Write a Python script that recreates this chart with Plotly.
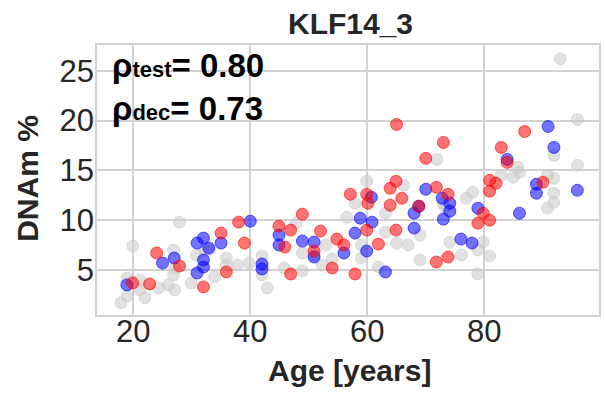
import plotly.graph_objects as go

# Age [years] and DNAm % for each sample group
gray_age = [17.9, 19.0, 19.0, 19.9, 21.1, 21.1, 22.0, 24.3, 26.0, 27.1, 26.9, 26.9, 27.1, 27.9,
            29.9, 30.8, 32.2, 33.0, 33.9, 35.9, 35.9, 37.8, 39.8, 42.0, 42.0, 42.9, 45.8, 47.8,
            48.9, 48.9, 50.9, 52.3, 52.9, 54.0, 56.5, 59.9, 57.9, 63.1, 66.2, 63.1, 59.0, 59.0,
            61.9, 65.0, 67.0, 69.0, 69.0, 73.0, 73.3, 74.1, 76.1, 76.9, 78.0, 78.9, 78.9, 79.8,
            80.9, 82.9, 84.9, 86.0, 90.8, 91.9, 91.9, 91.9, 90.8, 71.9, 91.9, 95.9, 95.9, 93.0,
            85.7]
gray_dnam = [1.7, 2.4, 4.2, 7.4, 4.0, 3.0, 2.2, 3.2, 3.5, 3.0, 7.0, 4.5, 5.2, 9.8,
             3.7, 6.5, 7.0, 7.0, 4.3, 6.2, 5.5, 5.5, 5.7, 6.4, 4.5, 3.2, 5.2, 9.7,
             6.7, 4.9, 6.5, 5.5, 7.5, 6.1, 10.3, 13.9, 11.7, 10.7, 13.5, 8.8, 7.5, 6.2,
             5.3, 7.7, 7.5, 8.5, 6.0, 11.7, 11.3, 7.8, 6.5, 12.2, 12.8, 7.0, 4.6, 7.8,
             6.4, 14.5, 14.3, 14.8, 14.5, 14.2, 12.7, 11.8, 11.2, 16.1, 16.5, 20.1, 15.5, 26.2,
             15.3]

blue_age = [18.9, 25.0, 27.0, 30.9, 32.0, 32.9, 32.0, 32.0, 30.9, 35.0, 40.0, 42.0, 42.0,
            44.9, 44.9, 48.9, 50.9, 50.9, 56.0, 60.7, 58.8, 60.8, 57.9, 59.9, 63.1, 70.0,
            68.0, 68.0, 72.8, 74.1, 74.1, 73.0, 76.0, 77.9, 78.9, 86.0, 88.9, 88.9, 95.9,
            90.9, 91.9, 83.9, 68.8]
blue_dnam = [3.5, 5.7, 6.2, 7.7, 8.2, 7.2, 6.0, 5.3, 4.7, 7.7, 9.9, 5.6, 5.1,
             8.5, 7.5, 7.9, 7.8, 6.3, 6.7, 12.3, 10.2, 9.8, 8.7, 6.9, 4.8, 13.1,
             10.7, 9.2, 12.2, 11.7, 10.9, 10.1, 8.1, 7.7, 11.2, 10.7, 13.6, 12.7, 13.0,
             19.4, 17.3, 16.1, 11.4]

red_age = [19.9, 22.8, 24.0, 27.9, 32.0, 35.0, 35.9, 38.0, 39.0, 44.9, 45.9, 46.9, 46.9,
           48.9, 52.0, 50.9, 54.0, 54.8, 56.0, 57.1, 59.9, 60.1, 63.9, 64.9, 65.9, 63.9,
           59.9, 61.9, 64.9, 57.9, 68.8, 71.8, 73.8, 73.8, 71.8, 78.9, 79.8, 80.9, 80.9,
           82.0, 80.9, 90.0, 65.0, 73.0, 70.0, 82.9, 86.9, 83.9]
red_dnam = [3.7, 3.6, 6.7, 5.4, 3.3, 8.7, 4.8, 9.8, 7.7, 9.4, 7.3, 9.0, 4.6,
            10.6, 8.9, 6.9, 5.2, 8.1, 7.5, 12.6, 12.6, 11.7, 13.2, 13.9, 12.2, 11.5,
            9.0, 7.6, 9.0, 4.6, 11.4, 13.3, 12.6, 6.3, 5.8, 9.7, 10.7, 10.0, 14.0,
            13.7, 12.9, 13.8, 19.6, 17.8, 16.2, 17.3, 18.9, 15.8]

x_ticks = [20, 40, 60, 80]
y_ticks = [5, 10, 15, 20, 25]

title_text = "KLF14_3"
x_label = "Age [years]"
y_label = "DNAm %"
rho_test = 0.80
rho_dec = 0.73

GRID = "#d2d2d2"
TEXT = "#262626"
FONT = "Liberation Sans, Arial, sans-serif"


def group(x, y, rgb, alpha_fill, alpha_line):
    return go.Scatter(
        x=x, y=y, mode="markers", showlegend=False, hoverinfo="skip",
        marker=dict(size=12, color=f"rgba({rgb},{alpha_fill})",
                    line=dict(width=1, color=f"rgba({rgb},{alpha_line})")),
    )


fig = go.Figure()
fig.add_trace(group(gray_age, gray_dnam, "200,200,200", 0.55, 0.55))
fig.add_trace(group(blue_age, blue_dnam, "0,0,255", 0.55, 0.6))
fig.add_trace(group(red_age, red_dnam, "255,0,0", 0.55, 0.6))

axis_common = dict(
    showgrid=True, gridcolor=GRID, gridwidth=1.5,
    showline=True, linecolor=GRID, linewidth=1.5, mirror=True,
    zeroline=False, ticks="",
    tickfont=dict(family=FONT, size=31, color=TEXT),
)

fig.update_xaxes(range=[13.8, 99.6], tickvals=x_ticks, ticklabelstandoff=-12, **axis_common)
fig.update_yaxes(range=[0.48, 27.58], tickvals=y_ticks, ticklabelstandoff=-5, **axis_common)

rho_lines = (
    f"<b>ρ<span style='font-size:22px'>test</span>= {rho_test:.2f}</b><br>"
    f"<b>ρ<span style='font-size:22px'>dec</span>= {rho_dec:.2f}</b>"
)

fig.update_layout(
    width=605, height=394,
    margin=dict(l=97, r=4, t=45, b=79),
    paper_bgcolor="white", plot_bgcolor="white",
    annotations=[
        dict(text=f"<b>{title_text}</b>", xref="paper", yref="paper", x=0.504, y=1.078,
             xanchor="center", yanchor="middle", showarrow=False,
             font=dict(family=FONT, size=30, color=TEXT)),
        dict(text=f"<b>{x_label}</b>", xref="paper", yref="paper", x=0.502, y=-0.207,
             xanchor="center", yanchor="middle", showarrow=False,
             font=dict(family=FONT, size=30, color=TEXT)),
        dict(text=f"<b>{y_label}</b>", xref="paper", yref="paper", x=-0.14, y=0.507,
             xanchor="center", yanchor="middle", showarrow=False, textangle=-90,
             font=dict(family=FONT, size=30, color=TEXT)),
        dict(text=rho_lines, xref="paper", yref="paper", x=0.026, y=0.845,
             xanchor="left", yanchor="middle", align="left", showarrow=False,
             font=dict(family=FONT, size=33, color="black")),
    ],
)

fig.write_html("out.html")
